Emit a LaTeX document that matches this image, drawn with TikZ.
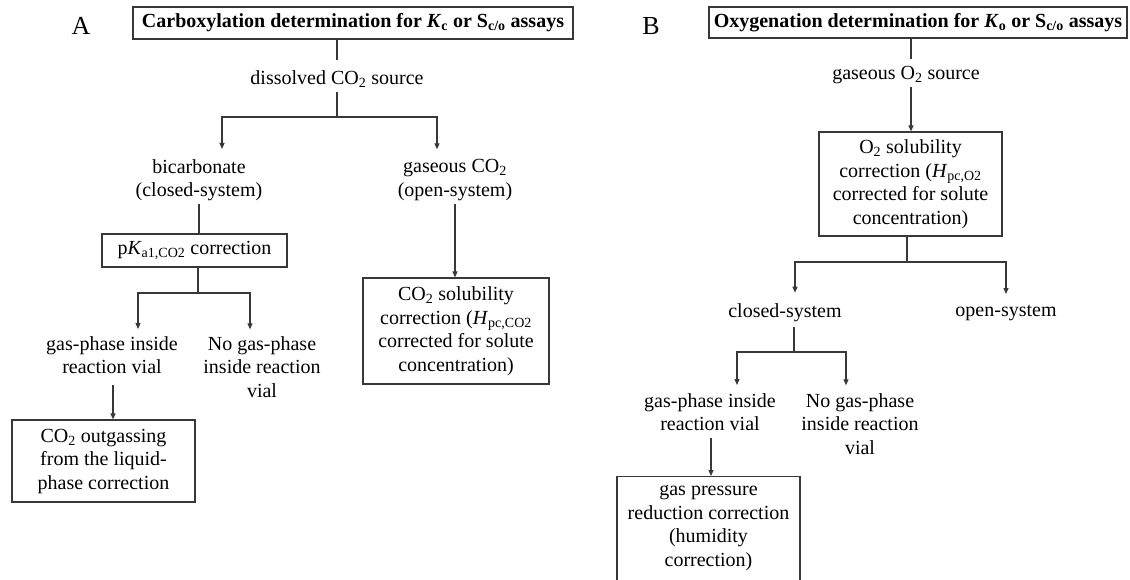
\documentclass[tikz,border=0pt]{standalone}
\usepackage{fontspec}
\setmainfont{Liberation Serif}
\usetikzlibrary{arrows.meta}
\definecolor{linegray}{gray}{0.22}
\begin{document}
\begin{tikzpicture}[x=1pt,y=-1pt,
  every node/.style={font=\fontsize{20}{23.5}\selectfont, inner sep=0pt, align=center, text=black},
  box/.style={draw=linegray, line width=1.2pt},
  link/.style={draw=linegray, line width=1.2pt},
  arr/.style={link, -{Triangle[length=6pt,width=5pt]}},
  lab/.style={font=\fontsize{26}{30}\selectfont}
]
\clip (0,0) rectangle (1130,579);
\fill[white] (0,0) rectangle (1130,579);

% ---------------- Panel A ----------------
\node[lab] (Alab) at (81,26) {A};
\node[box, minimum width=440pt, minimum height=32pt] (titleA) at (353,23)
  {\bfseries Carboxylation determination for \textit{K}\textsubscript{c} or S\textsubscript{c/o} assays};
\node (dis) at (337,79) {dissolved CO\textsubscript{2} source};
\draw[link] (titleA.south -| dis) -- ([yshift=10pt]dis.north);
\coordinate (jA) at (337,117);
\draw[link] ([yshift=-4pt]dis.south) -- (jA);

\node (bic) at (199,180) {bicarbonate\\(closed-system)};
\node (gas) at (455,180) {gaseous CO\textsubscript{2}\\(open-system)};
\draw[arr] (jA) -| ([xshift=23pt,yshift=10pt]bic.north);
\draw[arr] (jA) -| ([xshift=-18pt,yshift=10pt]gas.north);

\node[box, minimum width=185pt, minimum height=33pt] (pka) at (194.5,250.5)
  {p\textit{K}\textsubscript{a1,CO2} correction};
\draw[link] ([yshift=-3pt]bic.south) -- (bic.south |- pka.north);
\coordinate (jA2) at (198,293);
\draw[link] (pka.south -| jA2) -- (jA2);

\node (gpA) at (112,355) {gas-phase inside\\reaction vial};
\node (ngA) at (262,367) {No gas-phase\\inside reaction\\vial};
\draw[arr] (jA2) -| ([xshift=26pt,yshift=7pt]gpA.north);
\draw[arr] (jA2) -| ([xshift=-12pt,yshift=7pt]ngA.north);

\node[box, minimum width=183pt, minimum height=82pt] (outA) at (103.5,461)
  {CO\textsubscript{2} outgassing\\from the liquid-\\phase correction};
\draw[arr] ([xshift=1pt,yshift=-11pt]gpA.south) -- ([xshift=1pt]gpA.south |- outA.north);

\node[box, minimum width=186pt, minimum height=106pt] (solA) at (456,331)
  {CO\textsubscript{2} solubility\\correction (\textit{H}\textsubscript{pc,CO2}\\corrected for solute\\concentration)};
\draw[arr] ([yshift=-3pt]gas.south) -- (gas.south |- solA.north);

% ---------------- Panel B ----------------
\node[lab] (Blab) at (651,26) {B};
\node[box, minimum width=418pt, minimum height=31pt] (titleB) at (918,22.5)
  {\bfseries Oxygenation determination for \textit{K}\textsubscript{o} or S\textsubscript{c/o} assays};
\node (gO) at (906,75) {gaseous O\textsubscript{2} source};
\draw[link] ([xshift=5pt]gO.north |- titleB.south) -- ([xshift=5pt,yshift=7pt]gO.north);

\node[box, minimum width=183pt, minimum height=104pt] (solB) at (910.5,184)
  {O\textsubscript{2} solubility\\correction (\textit{H}\textsubscript{pc,O2}\\corrected for solute\\concentration)};
\draw[arr] ([xshift=5pt,yshift=-3pt]gO.south) -- ([xshift=5pt]gO.south |- solB.north);

\coordinate (jB) at (907,262);
\draw[link] (solB.south -| jB) -- (jB);
\node (cs) at (785,313) {closed-system};
\node (os) at (1006,313) {open-system};
\draw[arr] (jB) -| ([xshift=10pt,yshift=11pt]cs.north);
\draw[arr] (jB) -| ([yshift=11pt]os.north);

\coordinate (jB2) at (794,352);
\draw[link] ([xshift=9pt,yshift=-5pt]cs.south) -- (jB2);
\node (gpB) at (710,412) {gas-phase inside\\reaction vial};
\node (ngB) at (860,424) {No gas-phase\\inside reaction\\vial};
\draw[arr] (jB2) -| ([xshift=27pt,yshift=8pt]gpB.north);
\draw[arr] (jB2) -| ([xshift=-14pt,yshift=8pt]ngB.north);

\node[box, anchor=north, inner xsep=0pt, inner ysep=9pt, minimum width=183pt, text depth=24pt] (presB) at (708.5,476)
  {gas pressure\\reduction correction\\(humidity\\correction)};
\draw[arr] ([xshift=1pt,yshift=-7pt]gpB.south) -- ([xshift=1pt]gpB.south |- presB.north);
\end{tikzpicture}
\end{document}
